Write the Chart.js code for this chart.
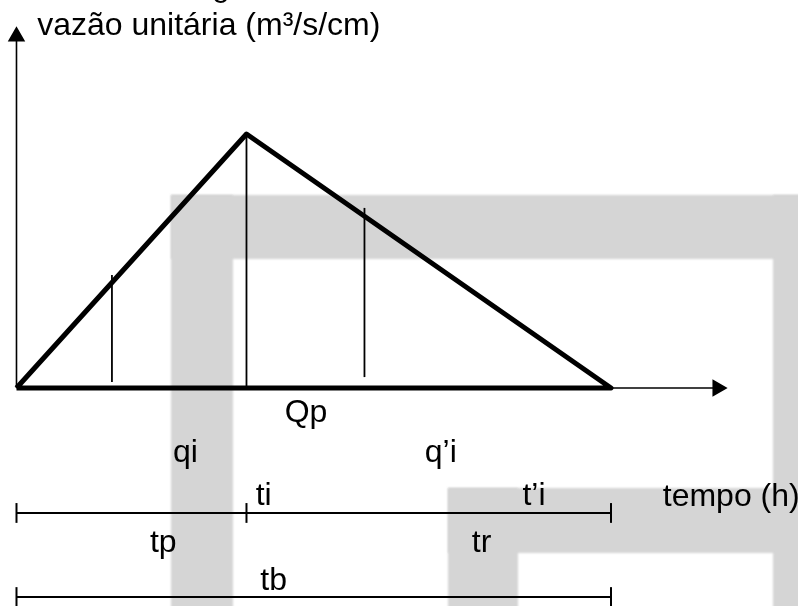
<!DOCTYPE html>
<html>
<head>
<meta charset="utf-8">
<script src="https://cdn.jsdelivr.net/npm/chart.js@4/dist/chart.umd.min.js"></script>
<style>
  body { margin: 0; background: #fff; }
  #box { width: 798px; height: 606px; }
</style>
</head>
<body>
<div id="box"><canvas id="hidrograma"></canvas></div>
<script>
// hidrograma unitario triangular (tempo em unidades de tp, vazao em unidades de Qp)
const hidroT = [0, 1, 2.585, 0];
const hidroQ = [0, 1, 0, 0];

// linhas verticais: qi, Qp, q'i
const vertT = [0.415, 1, 1.513];
const vertBase = [0.024, 0, 0.043];
const vertTopo = [0.445, 1, 0.709];

// cotas de tempo: tp | tr  e  tb
const cotaT = [0, 1, 2.585];
const cotaNivel = [-0.492, -0.823];

// eixos
const eixoX = [0, 3.048];
const eixoY = [0, 1.384];

const rotulos = ['Qp', 'qi', 'q\u2019i', 'ti', 't\u2019i', 'tp', 'tr', 'tb'];
const tituloY = 'vaz\u00e3o unit\u00e1ria (m\u00b3/s/cm)';
const tituloX = 'tempo (h)';

const FONTE = "32px 'Liberation Sans', Arial, sans-serif";

function linha(pts, w, extra) {
    return Object.assign({
        type: 'line',
        data: pts,
        borderColor: '#000',
        backgroundColor: '#000',
        borderWidth: w,
        pointRadius: 0,
        tension: 0,
        fill: false
    }, extra || {});
}

var datasets = [];

// eixos com setas
datasets.push(linha([{x: eixoX[0], y: 0}, {x: eixoX[1], y: 0}], 1.6, {
    pointRadius: [0, 8.5], pointStyle: 'triangle', rotation: 90
}));
datasets.push(linha([{x: 0, y: eixoY[0]}, {x: 0, y: eixoY[1]}], 1.6, {
    pointRadius: [0, 8.5], pointStyle: 'triangle', rotation: 0
}));

// verticais
for (var i = 0; i < vertT.length; i++) {
    datasets.push(linha([{x: vertT[i], y: vertBase[i]}, {x: vertT[i], y: vertTopo[i]}], 1.8));
}

// triangulo
datasets.push(linha(hidroT.map(function (t, k) { return {x: t, y: hidroQ[k]}; }), 5, {
    borderJoinStyle: 'round'
}));

// cotas
var tick = 0.039;
datasets.push(linha([{x: cotaT[0], y: cotaNivel[0]}, {x: cotaT[2], y: cotaNivel[0]}], 2));
cotaT.forEach(function (t) {
    datasets.push(linha([{x: t, y: cotaNivel[0] - tick}, {x: t, y: cotaNivel[0] + tick}], 2));
});
datasets.push(linha([{x: cotaT[0], y: cotaNivel[1]}, {x: cotaT[2], y: cotaNivel[1]}], 2));
[cotaT[0], cotaT[2]].forEach(function (t) {
    datasets.push(linha([{x: t, y: cotaNivel[1] - tick}, {x: t, y: cotaNivel[1] + tick}], 2));
});

const marcaDagua = {
    id: 'marcaDagua',
    beforeDraw(chart) {
        const ctx = chart.ctx;
        ctx.save();
        ctx.fillStyle = '#d5d5d5';
        ctx.filter = 'blur(1.2px)';
        ctx.fillRect(171, 195, 640, 64);
        ctx.fillRect(171, 195, 62, 420);
        ctx.fillRect(773, 195, 40, 420);
        ctx.fillRect(448, 488, 360, 65);
        ctx.fillRect(448, 488, 70, 130);
        ctx.restore();
    }
};

const textos = {
    id: 'textos',
    afterDatasetsDraw(chart) {
        const ctx = chart.ctx;
        const sx = chart.scales.x, sy = chart.scales.y;
        ctx.save();
        ctx.fillStyle = '#000';
        ctx.font = FONTE;
        ctx.textBaseline = 'alphabetic';
        ctx.textAlign = 'left';
        function put(txt, x, y) { ctx.fillText(txt, sx.getPixelForValue(x), sy.getPixelForValue(y)); }
        put('g', 0.85, 1.545);
        put(tituloY, 0.09, 1.39);
        put(rotulos[0], 1.166, -0.134);
        put(rotulos[1], 0.68, -0.29);
        put(rotulos[2], 1.775, -0.29);
        put(rotulos[3], 1.04, -0.46);
        put(rotulos[4], 2.2, -0.46);
        put(tituloX, 2.81, -0.464);
        put(rotulos[5], 0.58, -0.646);
        put(rotulos[6], 1.98, -0.646);
        put(rotulos[7], 1.06, -0.795);
        ctx.restore();
    }
};

new Chart('hidrograma', {
    type: 'scatter',
    data: { datasets: datasets },
    options: {
        responsive: true,
        maintainAspectRatio: false,
        animation: false,
        layout: { padding: 0, autoPadding: false },
        plugins: {
            legend: { display: false },
            tooltip: { enabled: false },
            title: { display: false }
        },
        scales: {
            x: { type: 'linear', display: false, min: -0.0717, max: 3.398 },
            y: { type: 'linear', display: false, min: -0.8583, max: 1.5276 }
        }
    },
    plugins: [marcaDagua, textos]
});
</script>
</body>
</html>
